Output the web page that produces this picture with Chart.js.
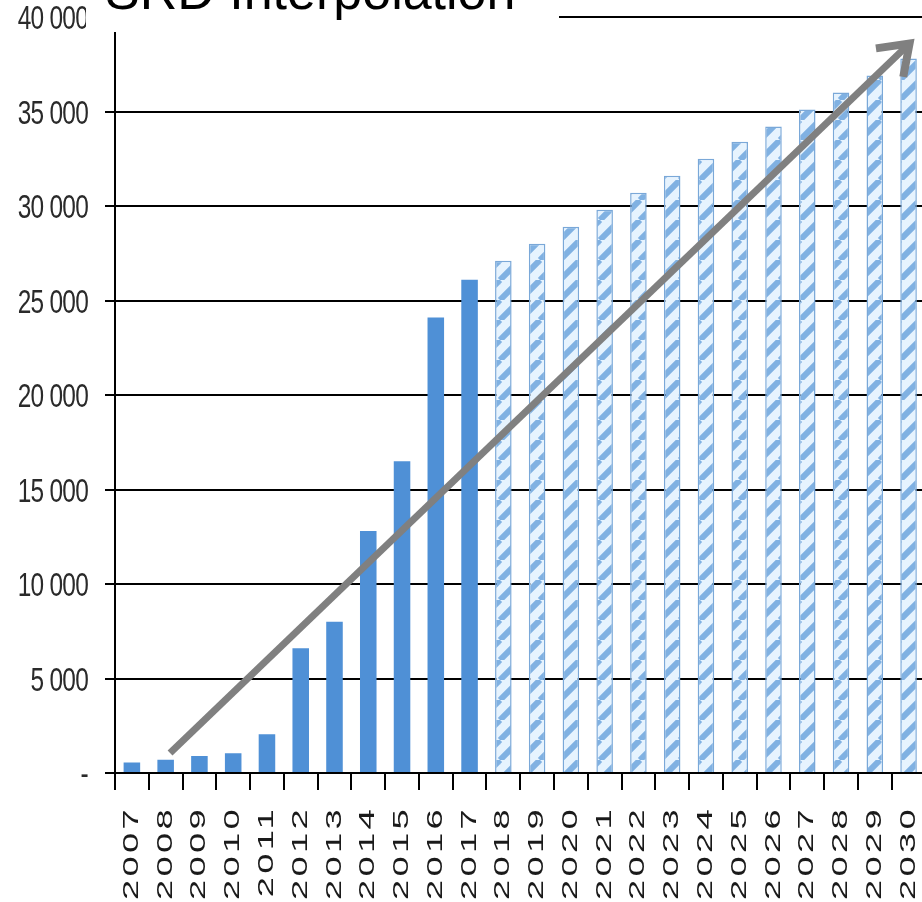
<!DOCTYPE html>
<html>
<head>
<meta charset="utf-8">
<script src="https://cdn.jsdelivr.net/npm/chart.js@4"></script>
<style>
  html, body { margin: 0; padding: 0; background: #fff; overflow: hidden; }
  #wrap { position: relative; width: 938px; height: 902px; }
  #titleBox {
    position: absolute; left: 86px; top: 0; width: 473px; height: 32px;
    background: #fff; overflow: hidden; z-index: 2;
  }
  #titleBox span {
    position: absolute; left: 19px; top: -35px; white-space: nowrap;
    font: 52px/52px "Liberation Sans", Arial, sans-serif; color: #000;
  }
</style>
</head>
<body>
<div id="wrap">
  <canvas id="chart"></canvas>
  <div id="titleBox"><span>SRD Interpolation</span></div>
</div>
<script>
// annees reelles puis projection
const years = ['2007', '2008', '2009', '2010', '2011', '2012', '2013', '2014', '2015', '2016', '2017',
  '2018', '2019', '2020', '2021', '2022', '2023', '2024', '2025', '2026', '2027', '2028', '2029', '2030'];
const actual = [550, 700, 900, 1050, 2050, 6600, 8000, 12800, 16500, 24100, 26100];
const forecast = [27100, 28000, 28900, 29800, 30700, 31600, 32500, 33400, 34200, 35100, 36000, 36900, 37800];
const yTicks = [0, 5000, 10000, 15000, 20000, 25000, 30000, 35000, 40000];
// fleche grise : [index de categorie, valeur]
const arrowFrom = [1.13, 1060];
const arrowTo = [23.03, 38600];

const values = actual.concat(forecast);

const makeHatch = () => {
    const c = document.createElement('canvas');
    c.width = 20; c.height = 20;
    const g = c.getContext('2d');
    g.fillStyle = '#e6f3fe';
    g.fillRect(0, 0, 20, 20);
    g.strokeStyle = '#80b1e2';
    g.lineWidth = 6;
    [-20, 0, 20].forEach(o => {
        g.beginPath();
        g.moveTo(o, 20);
        g.lineTo(o + 20, 0);
        g.stroke();
    });
    return document.getElementById('chart').getContext('2d').createPattern(c, 'repeat');
};

const hatch = makeHatch();
const fills = values.map((v, i) => i < actual.length ? '#4f90d6' : hatch);
const borders = values.map((v, i) => i < actual.length ? 'rgba(0,0,0,0)' : '#7aa8d8');
const borderW = values.map((v, i) => i < actual.length ? 0 : 1.5);

const fmt = (v) => v === 0 ? '-' : String(v).replace(/\B(?=(\d{3})+(?!\d))/g, ' ');

// etire ou serre le texte des graduations (annees allongees, montants etroits)
const stretchLabels = (scale, spacing, fx, fy, dy) => {
    if (scale._stretched) return;
    const orig = scale.drawLabels.bind(scale);
    scale._computeLabelArea = () => undefined; // pas de decoupe, sinon le zoom la deplace
    scale.drawLabels = function (area) {
        const c = this.ctx;
        const ox = this.isHorizontal() ? 0 : this.right - 27;
        const oy = this.isHorizontal() ? this.top : 0;
        c.save();
        c.letterSpacing = spacing;
        c.translate(ox, oy + dy);
        c.scale(fx, fy);
        c.translate(-ox, -oy);
        orig(area);
        c.restore();
    };
    scale._stretched = true;
};

const labelShape = {
    id: 'labelShape',
    beforeDraw(chart) {
        stretchLabels(chart.scales.x, '2px', 1, 1.65, 0);
        stretchLabels(chart.scales.y, '-1px', 0.74, 1, 3);
    }
};

const arrow = {
    id: 'arrow',
    afterDatasetsDraw(chart) {
        const { ctx, scales: { x, y } } = chart;
        const x0 = x.getPixelForValue(arrowFrom[0]), y0 = y.getPixelForValue(arrowFrom[1]);
        const x1 = x.getPixelForValue(arrowTo[0]), y1 = y.getPixelForValue(arrowTo[1]);
        const ang = Math.atan2(y1 - y0, x1 - x0);
        const len = 34;
        ctx.save();
        ctx.strokeStyle = '#808080';
        ctx.lineWidth = 7;
        ctx.lineCap = 'butt';
        ctx.lineJoin = 'miter';
        ctx.beginPath();
        ctx.moveTo(x0, y0);
        ctx.lineTo(x1 - 4 * Math.cos(ang), y1 - 4 * Math.sin(ang));
        ctx.stroke();
        ctx.lineWidth = 8;
        ctx.beginPath();
        ctx.moveTo(x1 - len * Math.cos(ang - 0.62), y1 - len * Math.sin(ang - 0.62));
        ctx.lineTo(x1, y1);
        ctx.lineTo(x1 - len * Math.cos(ang + 0.62), y1 - len * Math.sin(ang + 0.62));
        ctx.stroke();
        ctx.restore();
    }
};

new Chart(document.getElementById('chart'), {
    type: 'bar',
    data: {
        labels: years,
        datasets: [{
            data: values,
            backgroundColor: fills,
            borderColor: borders,
            borderWidth: borderW,
            barPercentage: 0.98,
            categoryPercentage: 0.5
        }]
    },
    options: {
        responsive: true,
        maintainAspectRatio: false,
        animation: false,
        layout: { padding: { top: 0, right: 2, bottom: 0, left: 0 } },
        plugins: { legend: { display: false }, tooltip: { enabled: false }, title: { display: false } },
        scales: {
            x: {
                offset: true,
                grid: { offset: true, drawOnChartArea: false, color: '#000', lineWidth: 2, tickLength: 17 },
                border: { display: true, color: '#000', width: 2 },
                ticks: {
                    autoSkip: false, minRotation: 90, maxRotation: 90, padding: 3,
                    color: '#1a1a1a', font: { family: '"Liberation Sans", Arial, sans-serif', size: 22 }
                },
                afterFit: (s) => { s.height = 129; }
            },
            y: {
                min: 0, max: 40000,
                afterBuildTicks: (s) => { s.ticks = yTicks.map(v => ({ value: v })); },
                grid: { color: '#000', lineWidth: 2, tickLength: 10 },
                border: { display: true, color: '#000', width: 2 },
                ticks: {
                    padding: 17, color: '#2a2a2a', callback: fmt,
                    font: { family: '"Liberation Sans", Arial, sans-serif', size: 33 }
                },
                afterFit: (s) => { s.width = 115; s.paddingTop = 17; s.paddingBottom = 0; }
            }
        }
    },
    plugins: [labelShape, arrow]
});
</script>
</body>
</html>
